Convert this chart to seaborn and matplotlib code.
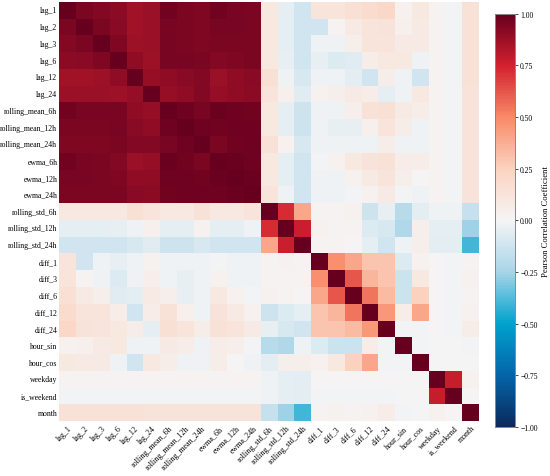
import numpy as np
import pandas as pd
import matplotlib
matplotlib.use("Agg")
import matplotlib.pyplot as plt
from matplotlib.colors import LinearSegmentedColormap
import seaborn as sns

plt.rcParams["font.family"] = "serif"
plt.rcParams["font.serif"] = ["Liberation Serif", "DejaVu Serif"]

# ── data ──────────────────────────────────────────────────────────────
features = [
    "lag_1", "lag_2", "lag_3", "lag_6", "lag_12", "lag_24",
    "rolling_mean_6h", "rolling_mean_12h", "rolling_mean_24h",
    "ewma_6h", "ewma_12h", "ewma_24h",
    "rolling_std_6h", "rolling_std_12h", "rolling_std_24h",
    "diff_1", "diff_3", "diff_6", "diff_12", "diff_24",
    "hour_sin", "hour_cos", "weekday", "is_weekend", "month",
]

corr_values = [
    [1.00, .95, .93, .91, .86, .88, .97, .95, .94, .97, .96, .95, .10, -.05, -.12, .12, .12, .15, .18, .22, .03, .10, .02, -.01, .14],
    [.95, 1.00, .95, .92, .86, .88, .96, .95, .94, .96, .96, .95, .10, -.05, -.12, -.12, .02, .08, .12, .13, .04, .08, .02, -.01, .14],
    [.93, .95, 1.00, .94, .87, .88, .96, .95, .94, .95, .95, .95, .10, -.05, -.12, -.02, -.02, .05, .12, .12, .08, .08, .02, -.01, .14],
    [.91, .92, .94, 1.00, .90, .87, .96, .96, .95, .93, .94, .95, .10, -.04, -.12, -.04, -.08, -.07, .07, .10, .10, -.02, .02, -.01, .14],
    [.86, .86, .87, .90, 1.00, .89, .90, .92, .93, .88, .90, .92, .15, -.02, -.10, -.02, -.02, -.06, -.12, .06, -.02, -.12, .02, -.01, .14],
    [.88, .88, .88, .87, .89, 1.00, .89, .90, .93, .89, .90, .91, .12, .04, -.07, .03, .05, .08, .07, -.05, -.02, .10, .02, -.01, .13],
    [.97, .96, .96, .96, .90, .89, 1.00, .98, .96, .99, .98, .97, .10, -.05, -.13, -.02, -.02, .05, .14, .15, .08, .06, .02, -.01, .13],
    [.95, .95, .95, .96, .92, .90, .98, 1.00, .98, .97, .98, .98, .10, -.05, -.13, -.02, -.04, -.04, .04, .12, .06, -.02, .02, -.01, .13],
    [.94, .94, .94, .95, .93, .93, .96, .98, 1.00, .95, .97, .98, .14, .03, -.10, -.02, -.02, -.02, -.02, .06, -.02, -.02, .02, -.01, .13],
    [.97, .96, .95, .93, .88, .89, .99, .97, .95, 1.00, .99, .98, .10, -.05, -.12, -.01, .03, .10, .13, .14, .07, .06, .02, -.01, .13],
    [.96, .96, .95, .94, .90, .90, .98, .98, .97, .99, 1.00, .99, .10, -.05, -.12, -.02, -.02, .03, .08, .12, .05, .01, .02, -.01, .13],
    [.95, .95, .95, .95, .92, .91, .97, .98, .98, .98, .99, 1.00, .12, -.02, -.12, -.02, -.02, -.01, .03, .08, -.01, -.02, .02, -.01, .13],
    [.10, .10, .10, .10, .15, .12, .10, .10, .14, .10, .10, .12, 1.00, .72, .40, .02, .02, .03, -.13, -.04, -.20, -.06, -.02, -.02, -.15],
    [-.05, -.05, -.05, -.04, -.02, .04, -.05, -.05, .03, -.05, -.05, -.02, .72, 1.00, .77, .03, .02, .02, -.08, -.10, -.22, .05, -.05, -.05, -.26],
    [-.12, -.12, -.12, -.12, -.10, -.07, -.13, -.13, -.10, -.12, -.12, -.12, .40, .77, 1.00, .02, .02, .01, -.05, -.12, -.02, .05, -.06, -.06, -.40],
    [.12, -.12, -.02, -.04, -.02, .03, -.02, -.02, -.02, -.01, -.02, -.02, .02, .03, .02, 1.00, .48, .40, .30, .30, -.08, .03, .01, -.01, .02],
    [.12, .02, -.02, -.08, -.02, .05, -.02, -.04, -.02, .03, -.02, -.02, .02, .02, .02, .48, 1.00, .62, .35, .30, -.14, .10, .01, -.01, .03],
    [.15, .08, .05, -.07, -.06, .08, .05, -.04, -.02, .10, .03, -.01, .03, .02, .01, .40, .62, 1.00, .55, .33, -.14, .25, .01, -.01, .02],
    [.18, .12, .12, .07, -.12, .07, .14, .04, -.02, .13, .08, .03, -.13, -.08, -.05, .30, .35, .55, 1.00, .45, .07, .40, .01, -.01, .03],
    [.22, .13, .12, .10, .06, -.05, .15, .12, .06, .14, .12, .08, -.04, -.10, -.12, .30, .30, .33, .45, 1.00, -.01, -.01, .01, -.01, .07],
    [.03, .04, .08, .10, -.02, -.02, .08, .06, -.02, .07, .05, -.01, -.20, -.22, -.02, -.08, -.14, -.14, .07, -.01, 1.00, -.01, .00, .00, -.01],
    [.10, .08, .08, -.02, -.12, .10, .06, -.02, -.02, .06, .01, -.02, -.06, .05, .05, .03, .10, .25, .40, -.01, -.01, 1.00, .00, .00, .00],
    [.02, .02, .02, .02, .02, .02, .02, .02, .02, .02, .02, .02, -.02, -.05, -.06, .01, .01, .01, .01, .01, .00, .00, 1.00, .78, .03],
    [-.01, -.01, -.01, -.01, -.01, -.01, -.01, -.01, -.01, -.01, -.01, -.01, -.02, -.05, -.06, -.01, -.01, -.01, -.01, -.01, .00, .00, .78, 1.00, .01],
    [.14, .14, .14, .14, .14, .13, .13, .13, .13, .13, .13, .13, -.15, -.26, -.40, .02, .03, .02, .03, .07, -.01, .00, .03, .01, 1.00],
]

cmap_colors = ["#0a2a5c", "#0565aa", "#00a2cc", "#a8d5e8", "#f5f5f5",
               "#fbd3c0", "#f98a68", "#d3212e", "#67001f"]
cbar_ticks = [-1, -0.75, -0.5, -0.25, 0, 0.25, 0.5, 0.75, 1]

# ── plot ──────────────────────────────────────────────────────────────
corr = pd.DataFrame(corr_values, index=features, columns=features)
cmap = LinearSegmentedColormap.from_list("corr_div", cmap_colors)

fig = plt.figure(figsize=(5.5, 4.77), dpi=100)
ax = fig.add_axes([0.108, 0.115, 0.763, 0.879])
cax = fig.add_axes([0.9, 0.103, 0.037, 0.866])

sns.heatmap(
    corr, ax=ax, cbar_ax=cax, cmap=cmap, vmin=-1, vmax=1,
    xticklabels=True, yticklabels=True,
    cbar_kws={"ticks": cbar_ticks},
)

ax.tick_params(axis="x", labelsize=5.8, length=0, pad=2)
ax.tick_params(axis="y", labelsize=5.6, length=0, pad=1.5)
plt.setp(ax.get_xticklabels(), rotation=45, ha="right", rotation_mode="anchor")
plt.setp(ax.get_yticklabels(), rotation=0)

cax.tick_params(labelsize=5.5, length=2, width=0.5, pad=1.5)
cax.yaxis.set_major_formatter(plt.FuncFormatter(lambda v, _: f"{v:.2f}".replace("-", "\u2212")))
cax.set_ylabel("Pearson Correlation Coefficient", fontsize=6.2, labelpad=3)
for sp in cax.spines.values():
    sp.set_visible(True)
    sp.set_linewidth(0.6)
    sp.set_edgecolor("#888888")

fig.savefig("out.png", dpi=100)
plt.close(fig)
